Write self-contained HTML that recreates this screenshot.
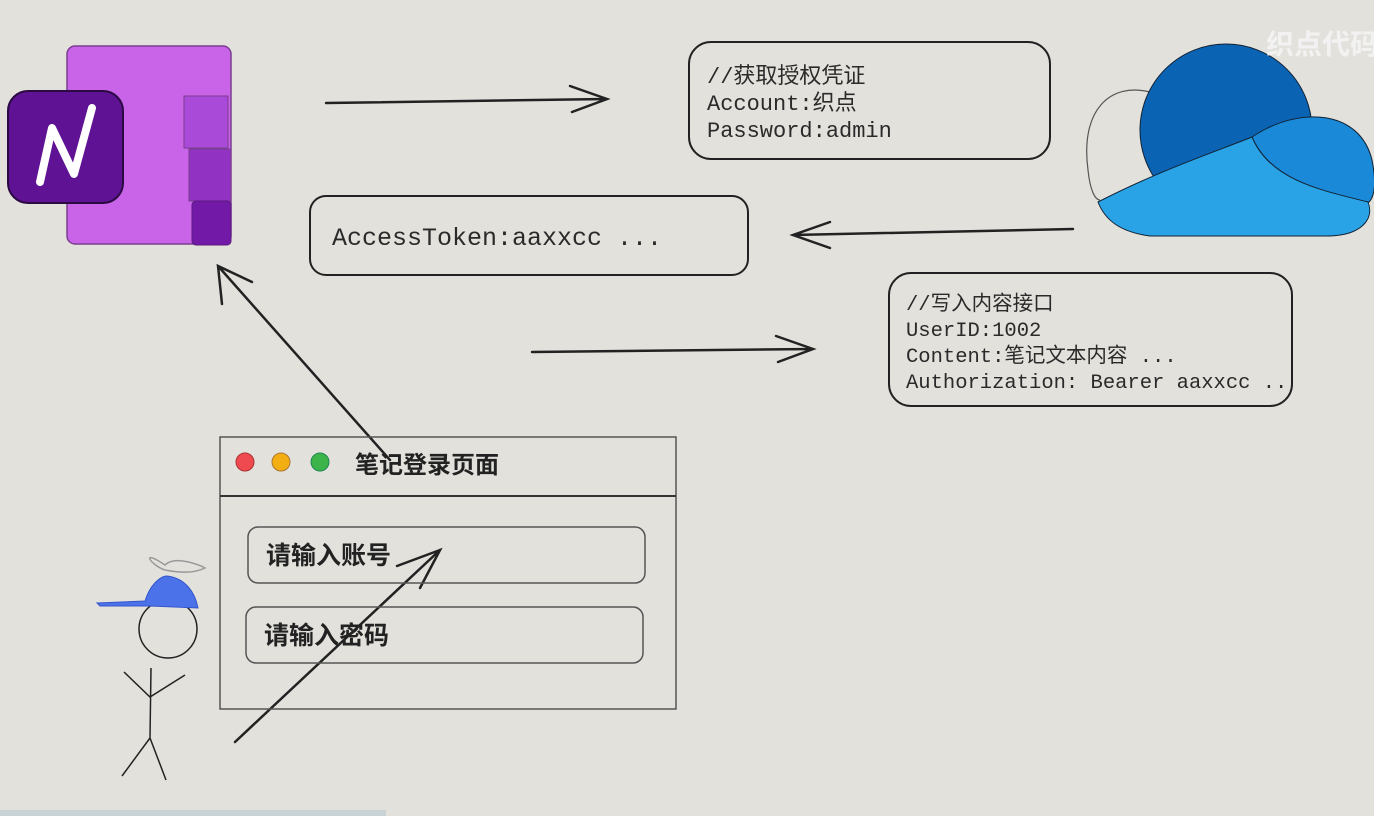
<!DOCTYPE html>
<html><head><meta charset="utf-8"><style>
html,body{margin:0;padding:0;background:#e3e1dc;}
svg{display:block}
.m{font-family:"Liberation Mono","Noto Sans CJK SC",monospace;fill:#2a2a2a;}
.c{font-family:"Liberation Sans","Noto Sans CJK SC",sans-serif;fill:#222;font-weight:bold;}
</style></head><body>
<svg width="1374" height="816" viewBox="0 0 1374 816" xmlns="http://www.w3.org/2000/svg">
<rect width="1374" height="816" fill="#e3e1dc"/>
<rect x="0" y="810" width="386" height="6" fill="#c9d3d6"/>
<!-- OneNote -->
<rect x="67" y="46" width="164" height="198" rx="8" fill="#c964e8" stroke="#7a3e90" stroke-width="1.5"/>
<rect x="184" y="96" width="44" height="52" fill="#a94ad8" stroke="#7a3e90"/>
<rect x="189" y="149" width="42" height="52" fill="#9132c2" stroke="#7a3e90"/>
<rect x="192" y="201" width="39" height="44" rx="4" fill="#7319a8" stroke="#5a1a80"/>
<rect x="8" y="91" width="115" height="112" rx="20" fill="#5f1294" stroke="#2b0a44" stroke-width="2"/>
<path d="M40 182 L52 128 L74 174 L92 108" fill="none" stroke="#fff" stroke-width="8" stroke-linecap="round" stroke-linejoin="round"/>
<!-- Cloud -->
<path d="M1150 92 C1110 82 1080 110 1088 170 C1090 190 1095 200 1100 200" fill="none" stroke="#555" stroke-width="1.2"/>
<circle cx="1226" cy="130" r="86" fill="#0b63b4" stroke="#123" stroke-width="1"/>
<path d="M1252 137 C1300 105 1360 110 1372 160 C1378 190 1372 200 1368 203 C1320 190 1270 180 1252 137 Z" fill="#1a8ad8" stroke="#123"/>
<path d="M1098 202 C1160 170 1220 150 1252 137 C1270 180 1320 190 1368 202 C1375 220 1360 235 1330 236 L1150 236 C1120 232 1105 220 1098 202 Z" fill="#29a3e6" stroke="#123"/>
<text x="1266" y="54" font-family="Liberation Sans,Noto Sans CJK SC,sans-serif" font-size="28" font-weight="bold" fill="#f6f6f6" opacity="0.85">织点代码</text>
<!-- boxes -->
<rect x="689" y="42" width="361" height="117" rx="22" fill="none" stroke="#222" stroke-width="2"/>
<text class="m" font-size="22" x="707" y="83">//获取授权凭证</text>
<text class="m" font-size="22" x="707" y="110">Account:织点</text>
<text class="m" font-size="22" x="707" y="137">Password:admin</text>
<rect x="310" y="196" width="438" height="79" rx="16" fill="none" stroke="#222" stroke-width="2"/>
<text class="m" font-size="25" x="332" y="245">AccessToken:aaxxcc ...</text>
<rect x="889" y="273" width="403" height="133" rx="22" fill="none" stroke="#222" stroke-width="2"/>
<text class="m" font-size="20.5" x="906" y="310">//写入内容接口</text>
<text class="m" font-size="20.5" x="906" y="336">UserID:1002</text>
<text class="m" font-size="20.5" x="906" y="362">Content:笔记文本内容 ...</text>
<text class="m" font-size="20.5" x="906" y="388">Authorization: Bearer aaxxcc ..</text>
<!-- arrows -->
<g fill="none" stroke="#222" stroke-width="2.5" stroke-linecap="round">
<path d="M326 103 L606 99 M570 86 L607 99 L572 112"/>
<path d="M1073 229 L793 235 M830 222 L793 235 L830 248"/>
<path d="M532 352 L812 349 M776 336 L813 349 L778 362"/>
<path d="M390 460 L218 266 M222 304 L218 266 L252 282"/>
<path d="M235 742 L440 550 M397 566 L440 550 L420 588"/>
</g>
<!-- window -->
<rect x="220" y="437" width="456" height="272" fill="none" stroke="#555" stroke-width="1.5"/>
<line x1="220" y1="496" x2="676" y2="496" stroke="#333" stroke-width="2"/>
<circle cx="245" cy="462" r="9" fill="#ee4a4f" stroke="#a33"/>
<circle cx="281" cy="462" r="9" fill="#f3ae13" stroke="#a73"/>
<circle cx="320" cy="462" r="9" fill="#3cb44a" stroke="#285"/>
<text class="c" x="355" y="473" font-size="24">笔记登录页面</text>
<rect x="248" y="527" width="397" height="56" rx="10" fill="none" stroke="#555" stroke-width="1.5"/>
<text class="c" x="266" y="564" font-size="25">请输入账号</text>
<rect x="246" y="607" width="397" height="56" rx="10" fill="none" stroke="#555" stroke-width="1.5"/>
<text class="c" x="264" y="644" font-size="25">请输入密码</text>
<!-- stick figure -->
<g fill="none" stroke="#222" stroke-width="1.5">
<circle cx="168" cy="629" r="29"/>
<path d="M151 668 L150 738 M124 672 L150 697 L185 675 M150 738 L122 776 M150 738 L166 780"/>
<path d="M165 570 C150 565 140 548 165 565 C175 555 200 565 205 568 C195 573 180 573 165 570 Z" stroke="#999"/>
</g>
<path d="M97 603 L145 601 C150 585 160 576 167 576 C185 578 195 592 198 608 L150 606 L100 606 Z" fill="#4c72ea" stroke="#3355cc"/>
</svg>
</body></html>
